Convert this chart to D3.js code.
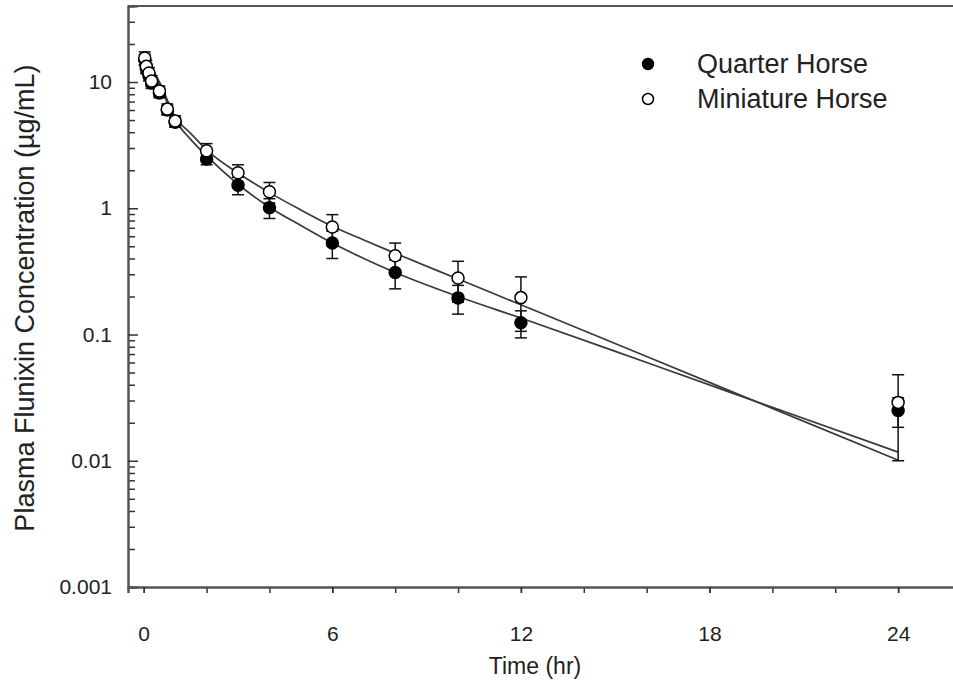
<!DOCTYPE html>
<html>
<head>
<meta charset="utf-8">
<script src="https://cdn.jsdelivr.net/npm/d3@7"></script>
<style>
  body { margin: 0; background: #fff; }
  svg { display: block; font-family: "Liberation Sans", Arial, sans-serif; }
</style>
</head>
<body>
<svg width="953" height="688"></svg>
<script>
// sampling times (hr)
var times = [0.033, 0.083, 0.167, 0.25, 0.5, 0.75, 1, 2, 3, 4, 6, 8, 10, 12, 24];
// Quarter Horse mean +/- SD
var quarterMean = [15.0, 12.8, 11.2, 9.8, 8.2, 6.0, 4.8, 2.46, 1.52, 1.01, 0.53, 0.31, 0.195, 0.124, 0.025];
var quarterSD = [1.5, 1.2, 1.0, 0.9, 0.7, 0.5, 0.4, 0.25, 0.24, 0.18, 0.13, 0.08, 0.05, 0.03, 0.0066];
// Miniature Horse mean +/- SD
var miniMean = [15.5, 13.3, 11.8, 10.2, 8.5, 6.1, 4.9, 2.85, 1.91, 1.35, 0.71, 0.42, 0.28, 0.196, 0.029];
var miniSD = [1.8, 1.5, 1.2, 1.0, 0.8, 0.6, 0.5, 0.4, 0.3, 0.25, 0.18, 0.11, 0.10, 0.09, 0.019];

// fitted curves
var fitTimes = [0, 0.25, 0.5, 1, 1.5, 2, 3, 4, 5, 6, 7, 8, 10, 12, 16, 20, 24];
var quarterFit = [16.5, 12.5, 9.5, 5.0, 3.5, 2.6, 1.55, 1.02, 0.73, 0.53, 0.40, 0.31, 0.20, 0.135, 0.06, 0.0265, 0.0117];
var miniFit = [16.5, 13, 10, 5.3, 3.9, 2.9, 1.9, 1.33, 0.97, 0.72, 0.56, 0.44, 0.275, 0.172, 0.067, 0.026, 0.0101];

var xMajor = [0, 6, 12, 18, 24];
var xMinor = [0, 2, 4, 6, 8, 10, 12, 14, 16, 18, 20, 22, 24];
var yMajor = [0.001, 0.01, 0.1, 1, 10];
var yLabels = ["0.001", "0.01", "0.1", "1", "10"];

var svg = d3.select("svg");
var mLeft = 128, mRight = 961, mTop = 6, mBottom = 587;

var x = d3.scaleLinear().domain([-0.5, 26]).range([mLeft, mRight]);
var y = d3.scaleLog().domain([0.001, 40]).range([mBottom, mTop]);

var axisColor = "#555";
var textColor = "#222";

// minor y ticks
var yMinor = [];
yMajor.forEach(function (d) {
  for (var k = 2; k <= 9; k++) {
    if (d * k <= 40) yMinor.push(d * k);
  }
});

var g = svg.append("g");

// frame top
g.append("line").attr("x1", mLeft).attr("x2", mRight).attr("y1", mTop).attr("y2", mTop)
  .attr("stroke", axisColor).attr("stroke-width", 2);

// y axis
var yAxisMinor = g.append("g")
  .attr("transform", "translate(" + mLeft + ",0)")
  .call(d3.axisLeft(y).tickValues(yMinor).tickSize(-7).tickFormat(""));
var yAxis = g.append("g")
  .attr("transform", "translate(" + mLeft + ",0)")
  .call(d3.axisLeft(y).tickValues(yMajor).tickSize(-10).tickPadding(16)
    .tickFormat(function (d, i) { return yLabels[i]; }));

// x axis
var xAxisMinor = g.append("g")
  .attr("transform", "translate(0," + mBottom + ")")
  .call(d3.axisBottom(x).tickValues(xMinor).tickSize(6).tickFormat(""));
var xAxis = g.append("g")
  .attr("transform", "translate(0," + mBottom + ")")
  .call(d3.axisBottom(x).tickValues(xMajor).tickSize(6).tickPadding(33));

[yAxisMinor, yAxis, xAxisMinor, xAxis].forEach(function (a) {
  a.select(".domain").attr("stroke", axisColor).attr("stroke-width", 2);
  a.selectAll(".tick line").attr("stroke", "#333").attr("stroke-width", 1.5);
  a.selectAll("text").attr("fill", textColor).attr("font-size", 21)
    .attr("font-family", "Liberation Sans, Arial, sans-serif");
});

// axis titles
svg.append("text")
  .attr("x", 535).attr("y", 674)
  .attr("text-anchor", "middle")
  .attr("font-size", 23).attr("fill", textColor)
  .text("Time (hr)");

svg.append("text")
  .attr("transform", "translate(34,298) rotate(-90)")
  .attr("text-anchor", "middle")
  .attr("font-size", 27).attr("fill", textColor)
  .text("Plasma Flunixin Concentration (µg/mL)");

// fitted lines
var line = d3.line()
  .x(function (d) { return x(d[0]); })
  .y(function (d) { return y(d[1]); })
  .curve(d3.curveMonotoneX);

[quarterFit, miniFit].forEach(function (vals) {
  g.append("path")
    .datum(fitTimes.map(function (t, i) { return [t, vals[i]]; }))
    .attr("d", line)
    .attr("fill", "none")
    .attr("stroke", "#3a3a3a")
    .attr("stroke-width", 1.7);
});

// series
var series = [
  { name: "Quarter Horse", mean: quarterMean, sd: quarterSD, fill: "#000" },
  { name: "Miniature Horse", mean: miniMean, sd: miniSD, fill: "#fff" }
];

series.forEach(function (s) {
  var pts = times.map(function (t, i) {
    return { t: t, v: s.mean[i], lo: Math.max(s.mean[i] - s.sd[i], 0.001), hi: s.mean[i] + s.sd[i] };
  });
  var eb = g.append("g").selectAll("g").data(pts).enter().append("g")
    .attr("stroke", "#111").attr("stroke-width", 1.5);
  eb.append("line")
    .attr("x1", function (d) { return x(d.t); })
    .attr("x2", function (d) { return x(d.t); })
    .attr("y1", function (d) { return y(d.lo); })
    .attr("y2", function (d) { return y(d.hi); });
  eb.append("line")
    .attr("x1", function (d) { return x(d.t) - 6; })
    .attr("x2", function (d) { return x(d.t) + 6; })
    .attr("y1", function (d) { return y(d.lo); })
    .attr("y2", function (d) { return y(d.lo); });
  eb.append("line")
    .attr("x1", function (d) { return x(d.t) - 6; })
    .attr("x2", function (d) { return x(d.t) + 6; })
    .attr("y1", function (d) { return y(d.hi); })
    .attr("y2", function (d) { return y(d.hi); });
  s.pts = pts;
});

series.forEach(function (s) {
  g.append("g").selectAll("circle").data(s.pts).enter().append("circle")
    .attr("cx", function (d) { return x(d.t); })
    .attr("cy", function (d) { return y(d.v); })
    .attr("r", 6)
    .attr("fill", s.fill)
    .attr("stroke", "#000")
    .attr("stroke-width", 1.5);
});

// legend
var legend = svg.append("g").attr("transform", "translate(648,64)");
series.forEach(function (s, i) {
  var row = legend.append("g").attr("transform", "translate(0," + i * 35 + ")");
  row.append("circle").attr("r", 5.5).attr("fill", s.fill)
    .attr("stroke", "#000").attr("stroke-width", 1.5);
  row.append("text").attr("x", 49).attr("y", 9)
    .attr("font-size", 27).attr("fill", textColor)
    .text(s.name);
});
</script>
</body>
</html>
